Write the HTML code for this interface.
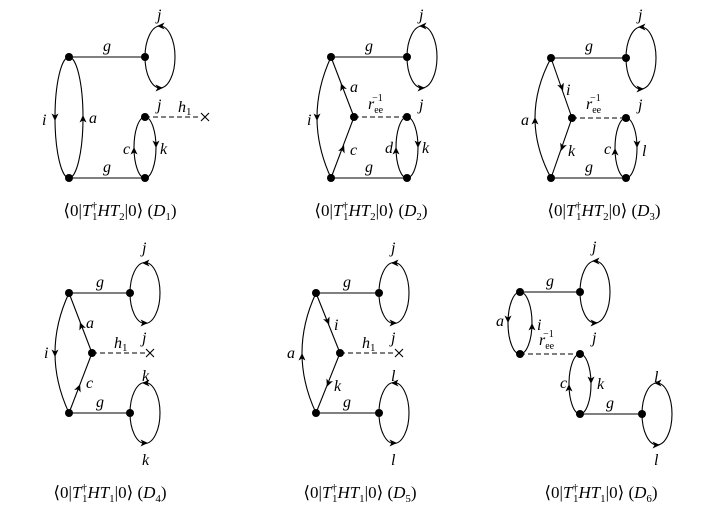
<!DOCTYPE html>
<html><head><meta charset="utf-8"><style>
html,body{margin:0;padding:0;background:#fff;}
svg{display:block;}
text{font-family:"Liberation Serif",serif;font-style:italic;font-size:16px;fill:#000;}
.cap{font-style:normal;font-size:17px;}
.it{font-style:italic;}
</style></head><body>
<svg width="711" height="517" viewBox="0 0 711 517" xmlns="http://www.w3.org/2000/svg">
<defs>
<path id="ar" d="M-4.5,-3.5 L3,0 L-4.5,3.5 L-2.5,0Z" fill="#000"/>
<circle id="nd" r="4" fill="#000"/>
</defs>
<g stroke="#000" stroke-width="1.1" fill="none">
<!-- D1 -->
<ellipse cx="69" cy="117.5" rx="14" ry="60.5"/>
<line x1="69" y1="57" x2="145" y2="57"/>
<line x1="69" y1="178" x2="145" y2="178"/>
<ellipse cx="160" cy="57" rx="15" ry="31"/>
<ellipse cx="145" cy="147.5" rx="11" ry="30.5"/>
<line x1="145" y1="117" x2="201" y2="117" stroke-dasharray="5,3"/>
<path d="M201,113 l8,8 M201,121 l8,-8"/>
<!-- D2 -->
<path d="M331,57 Q303,117.5 331,178"/>
<line x1="331" y1="57" x2="354" y2="117"/>
<line x1="354" y1="117" x2="331" y2="178"/>
<line x1="331" y1="57" x2="407" y2="57"/>
<line x1="331" y1="178" x2="407" y2="178"/>
<line x1="354" y1="117" x2="407" y2="117" stroke-dasharray="5,3"/>
<ellipse cx="422" cy="57" rx="15" ry="31"/>
<ellipse cx="407" cy="147.5" rx="11" ry="30.5"/>
<!-- D3 -->
<path d="M551,58 Q519,118 551,178"/>
<line x1="551" y1="58" x2="572" y2="118"/>
<line x1="572" y1="118" x2="551" y2="178"/>
<line x1="551" y1="58" x2="626" y2="58"/>
<line x1="551" y1="178" x2="626" y2="178"/>
<line x1="572" y1="118" x2="626" y2="118" stroke-dasharray="5,3"/>
<ellipse cx="641" cy="58" rx="15" ry="31"/>
<ellipse cx="626" cy="148" rx="11" ry="30"/>
<!-- D4 -->
<path d="M69,293 Q41,353 69,413"/>
<line x1="69" y1="293" x2="92" y2="353"/>
<line x1="92" y1="353" x2="69" y2="413"/>
<line x1="69" y1="293" x2="130" y2="293"/>
<line x1="69" y1="413" x2="130" y2="413"/>
<ellipse cx="145" cy="293" rx="15" ry="30.5"/>
<ellipse cx="145" cy="413" rx="15" ry="30.5"/>
<line x1="92" y1="353" x2="146" y2="353" stroke-dasharray="5,3"/>
<path d="M146,349 l8,8 M146,357 l8,-8"/>
<!-- D5 -->
<path d="M316,293 Q288,353 316,413"/>
<line x1="316" y1="293" x2="340" y2="353"/>
<line x1="340" y1="353" x2="316" y2="413"/>
<line x1="316" y1="293" x2="379" y2="293"/>
<line x1="316" y1="413" x2="379" y2="413"/>
<ellipse cx="394" cy="293" rx="15" ry="30.5"/>
<ellipse cx="394" cy="413" rx="15" ry="30.5"/>
<line x1="340" y1="353" x2="395" y2="353" stroke-dasharray="5,3"/>
<path d="M395,349 l8,8 M395,357 l8,-8"/>
<!-- D6 -->
<ellipse cx="520" cy="323" rx="12" ry="31"/>
<line x1="520" y1="292" x2="580" y2="292"/>
<ellipse cx="595" cy="292" rx="15" ry="31"/>
<line x1="520" y1="354" x2="580" y2="354" stroke-dasharray="5,3"/>
<ellipse cx="580" cy="384" rx="11" ry="30"/>
<line x1="580" y1="414" x2="642" y2="414"/>
<ellipse cx="657" cy="414" rx="15" ry="31"/>
</g>
<g>
<use href="#nd" x="69" y="57"/><use href="#nd" x="69" y="178"/><use href="#nd" x="145" y="57"/><use href="#nd" x="145" y="117"/><use href="#nd" x="145" y="178"/>
<use href="#nd" x="331" y="57"/><use href="#nd" x="407" y="57"/><use href="#nd" x="354" y="117"/><use href="#nd" x="407" y="117"/><use href="#nd" x="331" y="178"/><use href="#nd" x="407" y="178"/>
<use href="#nd" x="551" y="58"/><use href="#nd" x="626" y="58"/><use href="#nd" x="572" y="118"/><use href="#nd" x="626" y="118"/><use href="#nd" x="551" y="178"/><use href="#nd" x="626" y="178"/>
<use href="#nd" x="69" y="293"/><use href="#nd" x="130" y="293"/><use href="#nd" x="92" y="353"/><use href="#nd" x="69" y="413"/><use href="#nd" x="130" y="413"/>
<use href="#nd" x="316" y="293"/><use href="#nd" x="379" y="293"/><use href="#nd" x="340" y="353"/><use href="#nd" x="316" y="413"/><use href="#nd" x="379" y="413"/>
<use href="#nd" x="520" y="292"/><use href="#nd" x="580" y="292"/><use href="#nd" x="520" y="354"/><use href="#nd" x="580" y="354"/><use href="#nd" x="580" y="414"/><use href="#nd" x="642" y="414"/>
</g>
<g>
<use href="#ar" transform="translate(55,118) rotate(90)"/>
<use href="#ar" transform="translate(83,118) rotate(-90)"/>
<use href="#ar" transform="translate(160,26) rotate(180)"/>
<use href="#ar" transform="translate(160,88) rotate(0)"/>
<use href="#ar" transform="translate(134,150) rotate(-90)"/>
<use href="#ar" transform="translate(156,145) rotate(90)"/>
<use href="#ar" transform="translate(317,118) rotate(90)"/>
<use href="#ar" transform="translate(342,86) rotate(-111)"/>
<use href="#ar" transform="translate(343,148) rotate(-69)"/>
<use href="#ar" transform="translate(422,26) rotate(180)"/>
<use href="#ar" transform="translate(422,88) rotate(0)"/>
<use href="#ar" transform="translate(396,150) rotate(-90)"/>
<use href="#ar" transform="translate(418,145) rotate(90)"/>
<use href="#ar" transform="translate(535,120) rotate(-90)"/>
<use href="#ar" transform="translate(562,88) rotate(71)"/>
<use href="#ar" transform="translate(562,148) rotate(109)"/>
<use href="#ar" transform="translate(641,27) rotate(180)"/>
<use href="#ar" transform="translate(641,89) rotate(0)"/>
<use href="#ar" transform="translate(615,151) rotate(-90)"/>
<use href="#ar" transform="translate(637,145) rotate(90)"/>
<use href="#ar" transform="translate(55,354) rotate(90)"/>
<use href="#ar" transform="translate(81,325) rotate(-111)"/>
<use href="#ar" transform="translate(79,387) rotate(-69)"/>
<use href="#ar" transform="translate(145,263) rotate(180)"/>
<use href="#ar" transform="translate(145,323) rotate(0)"/>
<use href="#ar" transform="translate(145,383) rotate(180)"/>
<use href="#ar" transform="translate(145,443) rotate(0)"/>
<use href="#ar" transform="translate(302,356) rotate(-90)"/>
<use href="#ar" transform="translate(328,322) rotate(68)"/>
<use href="#ar" transform="translate(328,384) rotate(112)"/>
<use href="#ar" transform="translate(394,263) rotate(180)"/>
<use href="#ar" transform="translate(394,323) rotate(0)"/>
<use href="#ar" transform="translate(394,383) rotate(180)"/>
<use href="#ar" transform="translate(394,443) rotate(0)"/>
<use href="#ar" transform="translate(508,320) rotate(90)"/>
<use href="#ar" transform="translate(532,326) rotate(-90)"/>
<use href="#ar" transform="translate(595,261) rotate(180)"/>
<use href="#ar" transform="translate(595,323) rotate(0)"/>
<use href="#ar" transform="translate(569,387) rotate(-90)"/>
<use href="#ar" transform="translate(591,381) rotate(90)"/>
<use href="#ar" transform="translate(657,383) rotate(180)"/>
<use href="#ar" transform="translate(657,445) rotate(0)"/>
</g>
<g>
<text x="103" y="51">g</text><text x="103" y="172">g</text>
<text x="157" y="20">j</text><text x="157" y="110">j</text>
<text x="42" y="125">i</text><text x="89" y="123">a</text>
<text x="178" y="112">h<tspan font-size="11" font-style="normal" dy="3">1</tspan></text>
<text x="123" y="154">c</text><text x="160" y="154">k</text>
<text x="365" y="51">g</text><text x="365" y="172">g</text>
<text x="419" y="20">j</text><text x="419" y="110">j</text>
<text x="307" y="125">i</text><text x="350" y="92">a</text><text x="350" y="155">c</text>
<text x="368" y="109">r<tspan font-size="10" font-style="normal" dy="4">ee</tspan><tspan font-size="10" font-style="normal" dx="-11" dy="-12">−1</tspan></text>
<text x="385" y="153">d</text><text x="422" y="153">k</text>
<text x="585" y="51">g</text><text x="585" y="172">g</text>
<text x="638" y="20">j</text><text x="638" y="110">j</text>
<text x="521" y="125">a</text><text x="566" y="95">i</text><text x="568" y="156">k</text>
<text x="586" y="109">r<tspan font-size="10" font-style="normal" dy="4">ee</tspan><tspan font-size="10" font-style="normal" dx="-11" dy="-12">−1</tspan></text>
<text x="604" y="154">c</text><text x="642" y="156">l</text>
<text x="96" y="287">g</text><text x="96" y="407">g</text>
<text x="142" y="253">j</text><text x="142" y="343">j</text>
<text x="142" y="381">k</text><text x="142" y="465">k</text>
<text x="44" y="358">i</text><text x="86" y="328">a</text><text x="86" y="388">c</text>
<text x="114" y="348">h<tspan font-size="11" font-style="normal" dy="3">1</tspan></text>
<text x="343" y="287">g</text><text x="343" y="407">g</text>
<text x="391" y="253">j</text><text x="391" y="343">j</text>
<text x="391" y="381">l</text><text x="391" y="465">l</text>
<text x="287" y="358">a</text><text x="334" y="330">i</text><text x="334" y="391">k</text>
<text x="362" y="348">h<tspan font-size="11" font-style="normal" dy="3">1</tspan></text>
<text x="546" y="286">g</text><text x="606" y="408">g</text>
<text x="592" y="252">j</text><text x="592" y="343">j</text>
<text x="654" y="382">l</text><text x="654" y="465">l</text>
<text x="496" y="326">a</text><text x="537" y="330">i</text>
<text x="539" y="345">r<tspan font-size="10" font-style="normal" dy="4">ee</tspan><tspan font-size="10" font-style="normal" dx="-11" dy="-12">−1</tspan></text>
<text x="560" y="388">c</text><text x="597" y="389">k</text>
</g>
<g text-anchor="middle">
<text class="cap" x="120" y="216">⟨0|<tspan class="it">T</tspan><tspan font-size="11" dy="-7">†</tspan><tspan font-size="11" dx="-5" dy="11">1</tspan><tspan class="it" dy="-4">HT</tspan><tspan font-size="11" dy="4">2</tspan><tspan dy="-4">|0⟩ (</tspan><tspan class="it">D</tspan><tspan font-size="11" dy="4">1</tspan><tspan dy="-4">)</tspan></text>
<text class="cap" x="371" y="216">⟨0|<tspan class="it">T</tspan><tspan font-size="11" dy="-7">†</tspan><tspan font-size="11" dx="-5" dy="11">1</tspan><tspan class="it" dy="-4">HT</tspan><tspan font-size="11" dy="4">2</tspan><tspan dy="-4">|0⟩ (</tspan><tspan class="it">D</tspan><tspan font-size="11" dy="4">2</tspan><tspan dy="-4">)</tspan></text>
<text class="cap" x="604" y="216">⟨0|<tspan class="it">T</tspan><tspan font-size="11" dy="-7">†</tspan><tspan font-size="11" dx="-5" dy="11">1</tspan><tspan class="it" dy="-4">HT</tspan><tspan font-size="11" dy="4">2</tspan><tspan dy="-4">|0⟩ (</tspan><tspan class="it">D</tspan><tspan font-size="11" dy="4">3</tspan><tspan dy="-4">)</tspan></text>
<text class="cap" x="110" y="498">⟨0|<tspan class="it">T</tspan><tspan font-size="11" dy="-7">†</tspan><tspan font-size="11" dx="-5" dy="11">1</tspan><tspan class="it" dy="-4">HT</tspan><tspan font-size="11" dy="4">1</tspan><tspan dy="-4">|0⟩ (</tspan><tspan class="it">D</tspan><tspan font-size="11" dy="4">4</tspan><tspan dy="-4">)</tspan></text>
<text class="cap" x="360" y="498">⟨0|<tspan class="it">T</tspan><tspan font-size="11" dy="-7">†</tspan><tspan font-size="11" dx="-5" dy="11">1</tspan><tspan class="it" dy="-4">HT</tspan><tspan font-size="11" dy="4">1</tspan><tspan dy="-4">|0⟩ (</tspan><tspan class="it">D</tspan><tspan font-size="11" dy="4">5</tspan><tspan dy="-4">)</tspan></text>
<text class="cap" x="601" y="498">⟨0|<tspan class="it">T</tspan><tspan font-size="11" dy="-7">†</tspan><tspan font-size="11" dx="-5" dy="11">1</tspan><tspan class="it" dy="-4">HT</tspan><tspan font-size="11" dy="4">1</tspan><tspan dy="-4">|0⟩ (</tspan><tspan class="it">D</tspan><tspan font-size="11" dy="4">6</tspan><tspan dy="-4">)</tspan></text>
</g>
</svg>
</body></html>
